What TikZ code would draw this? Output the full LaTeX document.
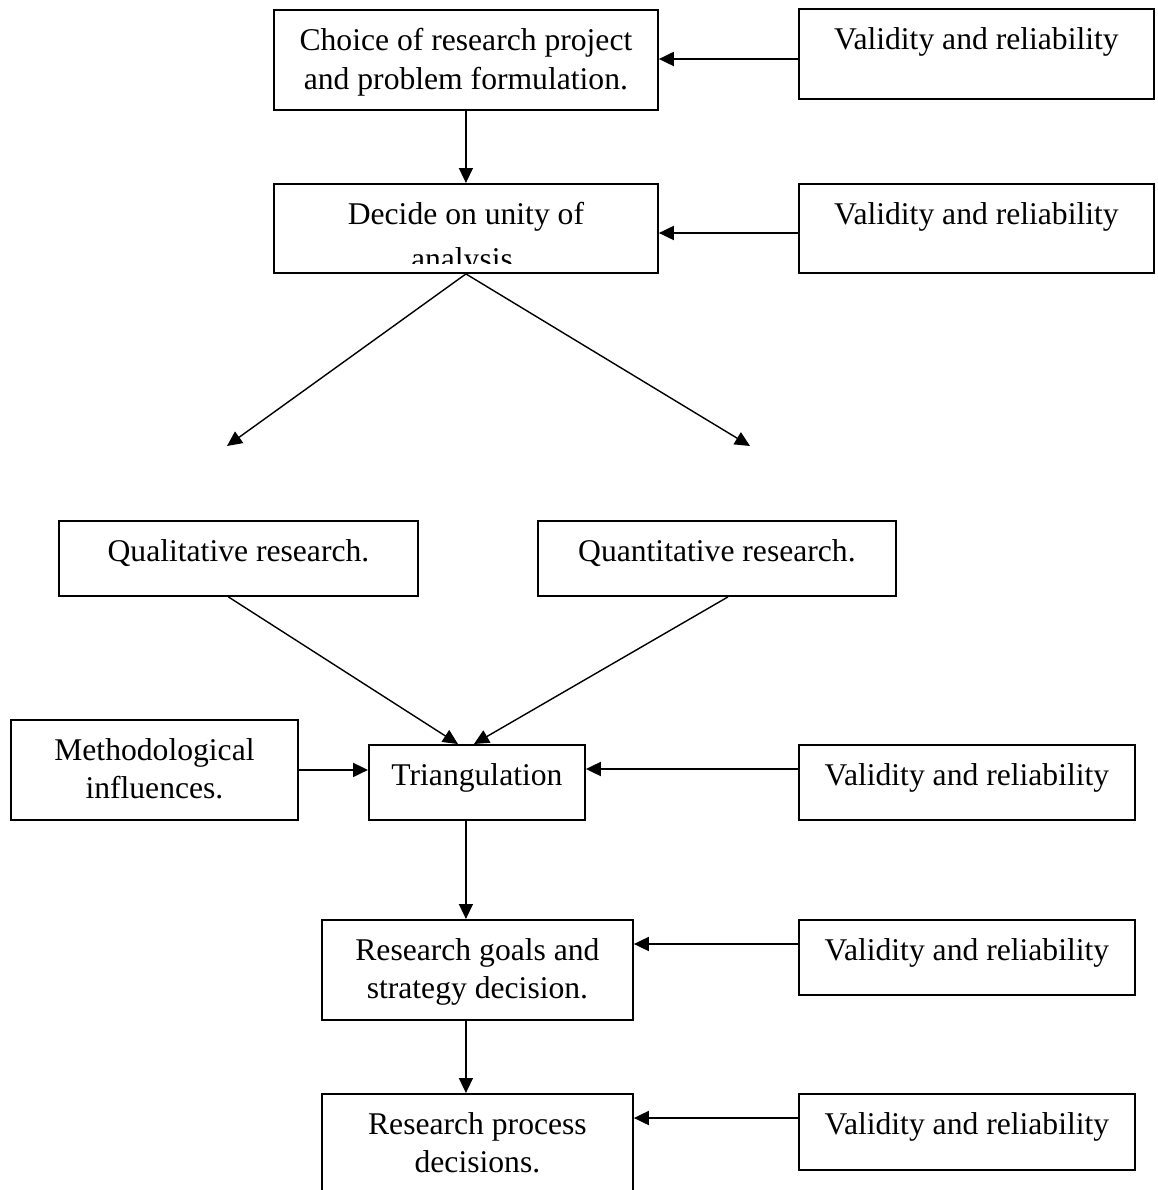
\documentclass[tikz,border=0pt]{standalone}
\usepackage{fontspec}
\setmainfont{Liberation Serif}
\usetikzlibrary{arrows.meta}

\tikzset{
	box/.style={draw,line width=1.1pt,inner sep=0pt,anchor=north west},
	boxtext/.style={anchor=north,inner sep=0pt,align=center,yshift=-0.38cm},
	link/.style={line width=0.8pt,-{Triangle[length=0.3cm,width=0.28cm]}},
	feed/.style={link,line width=1.1pt}
}

\begin{document}
\begin{tikzpicture}[x=0.02cm,y=-0.02cm,font=\fontsize{18}{22}\selectfont]
			\useasboundingbox (0,0) rectangle (1157,1190);
			\clip (0,0) rectangle (1157,1190);
			% main column
			\node[box,minimum width=7.68cm,minimum height=2cm] (choice) at (273,9) {};
			\node[boxtext] (choicetxt) at (choice.north) {Choice of research project\\and problem formulation.};
			\node[box,minimum width=7.68cm,minimum height=1.78cm] (decide) at (273,183) {};
			\begin{scope}
				\clip ([yshift=0.2cm]decide.south west) rectangle (decide.north east);
				\node[boxtext] (decidetxt) at (decide.north) {Decide on unity of\\[0.12cm]analysis.};
			\end{scope}
			\node[box,minimum width=7.18cm,minimum height=1.5cm] (qual) at (58,520) {};
			\node[boxtext] (qualtxt) at (qual.north) {Qualitative research.};
			\node[box,minimum width=7.16cm,minimum height=1.5cm] (quant) at (537,520) {};
			\node[boxtext] (quanttxt) at (quant.north) {Quantitative research.};
			\node[box,minimum width=5.74cm,minimum height=2cm] (meth) at (10,719) {};
			\node[boxtext] (methtxt) at (meth.north) {Methodological\\influences.};
			\node[box,minimum width=4.32cm,minimum height=1.5cm] (tri) at (368,744) {};
			\node[boxtext] (tritxt) at (tri.north) {Triangulation};
			\node[box,minimum width=6.22cm,minimum height=2cm] (goals) at (321,919) {};
			\node[boxtext] (goalstxt) at (goals.north) {Research goals and\\strategy decision.};
			\node[box,minimum width=6.22cm,minimum height=2.4cm] (process) at (321,1093) {};
			\node[boxtext] (processtxt) at (process.north) {Research process\\decisions.};
			% validity boxes
			\node[box,minimum width=7.1cm,minimum height=1.8cm] (valid1) at (798,8) {};
			\node[box,minimum width=7.1cm,minimum height=1.78cm] (valid2) at (798,183) {};
			\node[box,minimum width=6.72cm,minimum height=1.5cm] (valid3) at (798,744) {};
			\node[box,minimum width=6.72cm,minimum height=1.5cm] (valid4) at (798,919) {};
			\node[box,minimum width=6.72cm,minimum height=1.52cm] (valid5) at (798,1093) {};
			\foreach \v in {valid1,valid2,valid3,valid4,valid5}
				\node[boxtext] (\v txt) at (\v.north) {Validity and reliability};
			% arrow ends
			\coordinate (tip1) at ([yshift=-1cm]choice.north east);
			\coordinate (tip2) at ([yshift=-1cm]decide.north east);
			\coordinate (tip3) at ([yshift=-0.5cm]tri.north east);
			\coordinate (tip4) at ([yshift=-0.5cm]goals.north east);
			\coordinate (tip5) at ([yshift=-0.5cm]process.north east);
			\coordinate (leftend) at (227,446);
			\coordinate (rightend) at (750,446);
			\draw[feed] (valid1.west |- tip1) -- (tip1);
			\draw[feed] (valid2.west |- tip2) -- (tip2);
			\draw[feed] (valid3.west |- tip3) -- (tri.east |- tip3);
			\draw[feed] (valid4.west |- tip4) -- (tip4);
			\draw[feed] (valid5.west |- tip5) -- (tip5);
			\draw[feed] (meth.east) -- (tri.west |- meth.east);
			\draw[link] (choice.south) -- (decide.north);
			\draw[link] (decide.south) -- (leftend);
			\draw[link] (decide.south) -- (rightend);
			\draw[link] ([xshift=-0.2cm]qual.south) -- ([xshift=-0.38cm]tri.north);
			\draw[link] ([xshift=0.22cm]quant.south) -- ([xshift=-0.06cm]tri.north);
			\draw[link] (decide.south |- tri.south) -- (decide.south |- goals.north);
			\draw[link] (decide.south |- goals.south) -- (decide.south |- process.north);
		\end{tikzpicture}
\end{document}
